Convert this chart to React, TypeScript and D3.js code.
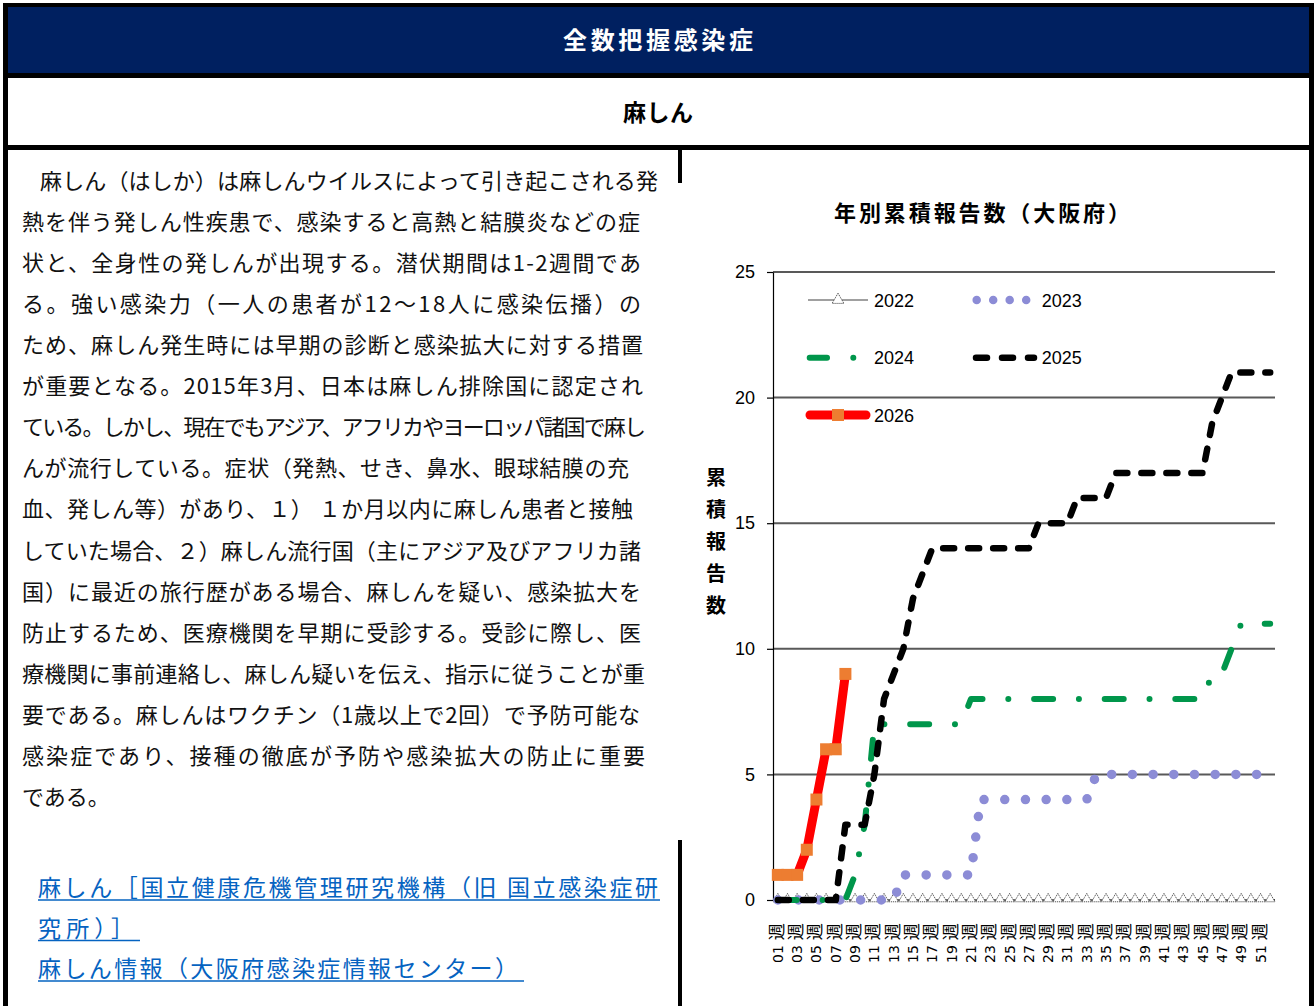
import React, { useEffect, useRef } from 'react';
import * as d3 from 'd3';

const weekLabels = [
  '01', '02', '03', '04', '05', '06', '07', '08', '09', '10', '11', '12', '13',
  '14', '15', '16', '17', '18', '19', '20', '21', '22', '23', '24', '25', '26',
  '27', '28', '29', '30', '31', '32', '33', '34', '35', '36', '37', '38', '39',
  '40', '41', '42', '43', '44', '45', '46', '47', '48', '49', '50', '51', '52',
];

const cases2022 = [
  0, 0, 0, 0, 0, 0, 0, 0, 0, 0, 0, 0, 0, 0, 0, 0, 0, 0, 0, 0, 0, 0, 0, 0, 0, 0,
  0, 0, 0, 0, 0, 0, 0, 0, 0, 0, 0, 0, 0, 0, 0, 0, 0, 0, 0, 0, 0, 0, 0, 0, 0, 0,
];
const cases2023 = [
  0, 0, 0, 0, 0, 0, 0, 0, 0, 0, 0, 0, 0, 1, 1, 1, 1, 1, 1, 1, 1, 4, 4, 4, 4, 4,
  4, 4, 4, 4, 4, 4, 4, 5, 5, 5, 5, 5, 5, 5, 5, 5, 5, 5, 5, 5, 5, 5, 5, 5, 5, 5,
];
const cases2024 = [
  0, 0, 0, 0, 0, 0, 0, 0, 1, 3, 7, 7, 7, 7, 7, 7, 7, 7, 7, 7, 8, 8, 8, 8, 8, 8,
  8, 8, 8, 8, 8, 8, 8, 8, 8, 8, 8, 8, 8, 8, 8, 8, 8, 8, 8, 9, 9, 10, 11, 11, 11, 11,
];
const cases2025 = [
  0, 0, 0, 0, 0, 0, 0, 3, 3, 3, 5, 8, 9, 10, 12, 13, 14, 14, 14, 14, 14, 14, 14, 14, 14, 14,
  14, 15, 15, 15, 15, 16, 16, 16, 16, 17, 17, 17, 17, 17, 17, 17, 17, 17, 17, 19, 20, 21, 21, 21, 21, 21,
];
const cases2026 = [1, 1, 1, 2, 4, 6, 6, 9];

const yTicks = [0, 5, 10, 15, 20, 25];
const yLabelChars = ['累', '積', '報', '告', '数'];

const bodyLines = [
  '麻しん（はしか）は麻しんウイルスによって引き起こされる発',
  '熱を伴う発しん性疾患で、感染すると高熱と結膜炎などの症',
  '状と、全身性の発しんが出現する。潜伏期間は1-2週間であ',
  'る。強い感染力（一人の患者が12～18人に感染伝播）の',
  'ため、麻しん発生時には早期の診断と感染拡大に対する措置',
  'が重要となる。2015年3月、日本は麻しん排除国に認定され',
  'ている。しかし、現在でもアジア、アフリカやヨーロッパ諸国で麻し',
  'んが流行している。症状（発熱、せき、鼻水、眼球結膜の充',
  '血、発しん等）があり、１） １か月以内に麻しん患者と接触',
  'していた場合、２）麻しん流行国（主にアジア及びアフリカ諸',
  '国）に最近の旅行歴がある場合、麻しんを疑い、感染拡大を',
  '防止するため、医療機関を早期に受診する。受診に際し、医',
  '療機関に事前連絡し、麻しん疑いを伝え、指示に従うことが重',
  '要である。麻しんはワクチン（1歳以上で2回）で予防可能な',
  '感染症であり、接種の徹底が予防や感染拡大の防止に重要',
  'である。',
];
// right edge of each text line (layout)
const bodyLineEnds = [658, 640, 641, 641, 643, 643, 646, 629, 633, 641, 641, 641, 645, 640, 645, null];

const linkLines = [
  '麻しん［国立健康危機管理研究機構（旧 国立感染症研',
  '究所）］',
  '麻しん情報（大阪府感染症情報センター）',
];

const JP = '"Noto Sans CJK JP", "Noto Sans", sans-serif';
const NUM = '"Liberation Sans", Arial, sans-serif';

const series = [
  { name: '2022', values: cases2022, color: '#808080', width: 1.5, dash: null, legendDash: null },
  { name: '2023', values: cases2023, color: '#8c8cd6', width: 9.5, dash: '0,20.7', legendDash: '0,16.5' },
  { name: '2024', values: cases2024, color: '#00964b', width: 6, dash: '19,25.8,0,25.8', legendDash: '17.3,26.3,0,200' },
  { name: '2025', values: cases2025, color: '#000000', width: 6.5, dash: '11,14', legendDash: '11,15' },
  { name: '2026', values: cases2026, color: '#ff0000', width: 9, dash: null, legendDash: null },
];

// legend placement: [x0, x1, y, textX]
const legendPos = {
  '2022': [808, 868, 300, 874],
  '2023': [976.7, 1027, 300, 1041.7],
  '2024': [809.7, 854, 357.7, 874],
  '2025': [976, 1034, 357.7, 1041.7],
  '2026': [810, 866, 415, 874],
};

const Chart = () => {
  const gRef = useRef(null);

  useEffect(() => {
    const g = d3.select(gRef.current);
    g.selectAll('*').remove();

    const left = 773, right = 1275, top = 272, bottom = 900;
    const x = d3.scalePoint().domain(weekLabels).range([left, right]).padding(0.5);
    const y = d3.scaleLinear().domain([0, 25]).range([bottom, top]);

    // gridlines
    g.append('g')
      .selectAll('line')
      .data(yTicks.filter((t) => t > 0))
      .join('line')
      .attr('x1', left)
      .attr('x2', right)
      .attr('y1', (d) => y(d))
      .attr('y2', (d) => y(d))
      .attr('stroke', '#595959')
      .attr('stroke-width', 2);

    // y axis
    const yAxis = g.append('g')
      .attr('transform', `translate(${left},0)`)
      .call(d3.axisLeft(y).tickValues(yTicks).tickSize(6).tickSizeOuter(0).tickPadding(12));
    yAxis.select('.domain').attr('stroke', '#000').attr('stroke-width', 1.2);
    yAxis.selectAll('.tick line').attr('stroke', '#000').attr('stroke-width', 1.2);
    yAxis.selectAll('.tick text')
      .style('font-family', NUM)
      .style('font-size', '18px')
      .attr('fill', '#000');

    // x axis line
    g.append('line')
      .attr('x1', left)
      .attr('x2', right)
      .attr('y1', bottom)
      .attr('y2', bottom)
      .attr('stroke', '#000')
      .attr('stroke-width', 1.5);

    // x labels (odd weeks)
    const xl = g.append('g')
      .selectAll('text')
      .data(weekLabels.filter((_, i) => i % 2 === 0))
      .join('text')
      .attr('transform', (d) => `translate(${x(d) + 5},963) rotate(-90)`)
      .style('font-family', '"DejaVu Sans", sans-serif')
      .style('font-size', '14px')
      .attr('fill', '#000');
    xl.append('tspan').text((d) => d);
    xl.append('tspan')
      .attr('dx', 5)
      .style('font-family', JP)
      .style('font-size', '17px')
      .text('週');

    // series
    const line = d3.line()
      .defined((d) => d != null)
      .x((d, i) => x(weekLabels[i]))
      .y((d) => y(d));

    series.forEach((s) => {
      g.append('path')
        .datum(s.values)
        .attr('d', line)
        .attr('fill', 'none')
        .attr('stroke', s.color)
        .attr('stroke-width', s.width)
        .attr('stroke-linecap', 'round')
        .attr('stroke-linejoin', 'round')
        .attr('stroke-dasharray', s.dash);

      if (s.name === '2022') {
        g.append('g')
          .selectAll('path')
          .data(s.values)
          .join('path')
          .attr('d', d3.symbol(d3.symbolTriangle, 40))
          .attr('transform', (d, i) => `translate(${x(weekLabels[i])},${y(d) - 1})`)
          .attr('fill', '#fff')
          .attr('stroke', '#444')
          .attr('stroke-width', 0.9)
          .attr('stroke-dasharray', '1.2,0.8');
      }
      if (s.name === '2026') {
        g.append('g')
          .selectAll('rect')
          .data(s.values)
          .join('rect')
          .attr('x', (d, i) => x(weekLabels[i]) - 6)
          .attr('y', (d) => y(d) - 6)
          .attr('width', 12)
          .attr('height', 12)
          .attr('fill', '#ed7d31');
      }
    });

    // legend
    series.forEach((s) => {
      const [x0, x1, ly, tx] = legendPos[s.name];
      g.append('line')
        .attr('x1', x0)
        .attr('x2', x1)
        .attr('y1', ly)
        .attr('y2', ly)
        .attr('stroke', s.color)
        .attr('stroke-width', s.name === '2023' ? 8.5 : s.width)
        .attr('stroke-linecap', s.name === '2022' ? 'butt' : 'round')
        .attr('stroke-dasharray', s.legendDash);
      if (s.name === '2022') {
        g.append('path')
          .attr('d', d3.symbol(d3.symbolTriangle, 60)())
          .attr('transform', `translate(${(x0 + x1) / 2},${ly})`)
          .attr('fill', '#fff')
          .attr('stroke', '#444')
          .attr('stroke-width', 0.9)
          .attr('stroke-dasharray', '1.2,0.8');
      }
      if (s.name === '2026') {
        g.append('rect')
          .attr('x', (x0 + x1) / 2 - 6)
          .attr('y', ly - 6)
          .attr('width', 12)
          .attr('height', 12)
          .attr('fill', '#ed7d31');
      }
      g.append('text')
        .attr('x', tx)
        .attr('y', ly + 6.5)
        .style('font-family', NUM)
        .style('font-size', '18px')
        .attr('fill', '#000')
        .text(s.name);
    });
  }, []);

  return (
    <g>
      <text x={834} y={221} textLength={296} lengthAdjust="spacing"
        style={{ fontFamily: JP, fontSize: 22, fontWeight: 700 }} fill="#000">
        年別累積報告数（大阪府）
      </text>
      {yLabelChars.map((c, i) => (
        <text key={c} x={716} y={485 + i * 32} textAnchor="middle"
          style={{ fontFamily: JP, fontSize: 20, fontWeight: 700 }} fill="#000">
          {c}
        </text>
      ))}
      <g ref={gRef} />
    </g>
  );
};

const App = () => {
  const lineStep = 41.06;
  return (
    <div style={{ position: 'absolute', left: 0, top: 0 }}>
      <svg width={1316} height={1006} style={{ display: 'block', background: '#fff' }}>
        <rect x={7} y={7} width={1302} height={66} fill="#002060" />
        {/* table borders */}
        <rect x={3} y={3} width={1311} height={4} fill="#000" />
        <rect x={3} y={3} width={5} height={1003} fill="#000" />
        <rect x={1309} y={3} width={5} height={1003} fill="#000" />
        <rect x={3} y={73} width={1311} height={5} fill="#000" />
        <rect x={3} y={145} width={1311} height={5} fill="#000" />
        <rect x={678} y={150} width={4} height={33} fill="#000" />
        <rect x={678} y={840} width={4} height={166} fill="#000" />

        <text x={563} y={49} textLength={190} lengthAdjust="spacing"
          style={{ fontFamily: JP, fontSize: 24, fontWeight: 700 }} fill="#fff">
          全数把握感染症
        </text>
        <text x={623} y={121} textLength={70} lengthAdjust="spacing"
          style={{ fontFamily: JP, fontSize: 23, fontWeight: 700 }} fill="#000">
          麻しん
        </text>

        <g style={{ fontFamily: JP, fontSize: 22 }} fill="#111">
          {bodyLines.map((t, i) => {
            const x0 = i === 0 ? 40 : 22;
            const end = bodyLineEnds[i];
            const props = end ? { textLength: end - x0, lengthAdjust: 'spacing' } : {};
            return (
              <text key={i} x={x0} y={189 + i * lineStep} {...props}>
                {t}
              </text>
            );
          })}
        </g>

        <g style={{ fontFamily: JP, fontSize: 23 }} fill="#0563c1">
          <text x={38} y={896} textLength={620} lengthAdjust="spacing">{linkLines[0]}</text>
          <line x1={38} x2={660} y1={900} y2={900} stroke="#0563c1" strokeWidth={1.5} />
          <text x={38} y={936.5} textLength={96} lengthAdjust="spacing">{linkLines[1]}</text>
          <line x1={38} x2={140} y1={940.5} y2={940.5} stroke="#0563c1" strokeWidth={1.5} />
          <text x={38} y={977} textLength={480} lengthAdjust="spacing">{linkLines[2]}</text>
          <line x1={38} x2={524} y1={981} y2={981} stroke="#0563c1" strokeWidth={1.5} />
        </g>

        <Chart />
      </svg>
    </div>
  );
};

export default App;
